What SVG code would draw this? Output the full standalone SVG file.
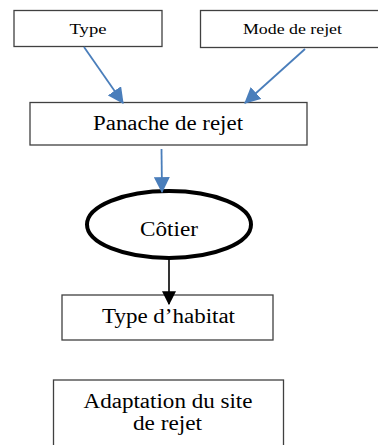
<svg xmlns="http://www.w3.org/2000/svg" width="378" height="445" viewBox="0 0 378 445">
  <defs>
    <style>
      .box { fill: #ffffff; stroke: #404040; stroke-width: 1.3; }
      .t { font-family: "Liberation Serif", "Times New Roman", serif; fill: #000; text-anchor: middle; }
      .blue { stroke: #4a7ebb; stroke-width: 1.8; fill: none; }
      .black { stroke: #000; stroke-width: 1.6; fill: none; }
    </style>
    <marker id="ab" markerUnits="userSpaceOnUse" markerWidth="16" markerHeight="16" viewBox="0 0 14 14" refX="13" refY="7" orient="auto">
      <path d="M0,0 L14,7 L0,14 z" fill="#4a7ebb"/>
    </marker>
    <marker id="ak" markerUnits="userSpaceOnUse" markerWidth="14" markerHeight="14" viewBox="0 0 12 12" refX="11" refY="6" orient="auto">
      <path d="M0,0 L12,6 L0,12 z" fill="#000"/>
    </marker>
  </defs>
  <rect width="378" height="445" fill="#ffffff"/>

  <g id="type">
    <rect class="box" x="14" y="10.5" width="148" height="36"/>
    <text class="t" x="88" y="34" font-size="15" textLength="37" lengthAdjust="spacingAndGlyphs">Type</text>
  </g>

  <g id="mode">
    <rect class="box" x="200.5" y="10.5" width="190" height="37"/>
    <text class="t" x="292.5" y="34" font-size="15" textLength="99" lengthAdjust="spacingAndGlyphs">Mode de rejet</text>
  </g>

  <g id="panache">
    <rect class="box" x="30" y="102.5" width="277" height="42.5"/>
    <text class="t" x="168" y="130" font-size="20" textLength="150" lengthAdjust="spacingAndGlyphs">Panache de rejet</text>
  </g>

  <g id="cotier">
    <ellipse cx="169" cy="224.5" rx="82" ry="33.5" fill="#ffffff" stroke="#000" stroke-width="4"/>
    <text class="t" x="169" y="236" font-size="20" textLength="58" lengthAdjust="spacingAndGlyphs">Côtier</text>
  </g>

  <g id="habitat">
    <rect class="box" x="62" y="295" width="211" height="45"/>
    <text class="t" x="168.5" y="323" font-size="20" textLength="133" lengthAdjust="spacingAndGlyphs">Type d’habitat</text>
  </g>

  <g id="adaptation">
    <rect class="box" x="53.5" y="380" width="230" height="80"/>
    <text class="t" x="168" y="408" font-size="20" textLength="169" lengthAdjust="spacingAndGlyphs">Adaptation du site</text>
    <text class="t" x="167.5" y="430" font-size="20" textLength="69" lengthAdjust="spacingAndGlyphs">de rejet</text>
  </g>

  <g id="connectors">
    <line class="blue" x1="84" y1="47" x2="123" y2="103" marker-end="url(#ab)"/>
    <line class="blue" x1="305" y1="49" x2="245" y2="103" marker-end="url(#ab)"/>
    <line class="blue" x1="161.5" y1="149" x2="162" y2="192" marker-end="url(#ab)"/>
    <line class="black" x1="169" y1="259" x2="169" y2="304" marker-end="url(#ak)"/>
  </g>
</svg>
